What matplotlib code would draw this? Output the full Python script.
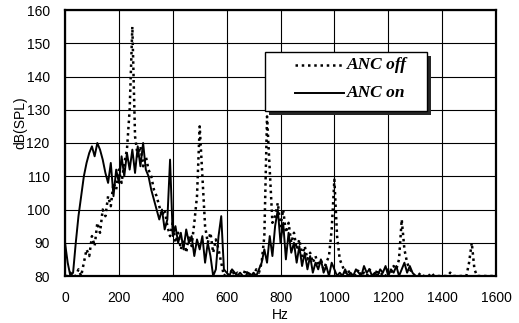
import matplotlib
matplotlib.use("Agg")
import matplotlib.pyplot as plt
from matplotlib.patches import Rectangle
from matplotlib.lines import Line2D
import numpy as np

freq_hz = list(range(0, 1610, 10))

anc_off = [
    80, 80, 81, 80, 80, 82, 80, 84, 88, 86,          # 0-90
    92, 89, 96, 93, 100, 98, 104, 101, 108, 106,     # 100-190
    112, 108, 114, 118, 130, 155, 122, 116, 119, 113,  # 200-290
    116, 112, 110, 106, 104, 101, 98, 100, 95, 92,   # 300-390
    96, 90, 93, 88, 91, 87, 92, 89, 96, 104,         # 400-490
    125, 110, 95, 90, 93, 87, 91, 88, 84, 80,        # 500-590
    81, 80, 82, 80, 81, 80, 80, 82, 80, 81,          # 600-690
    80, 82, 81, 84, 92, 128, 112, 96, 98, 102,       # 700-790
    95, 100, 93, 96, 90, 93, 88, 91, 86, 89,         # 800-890
    85, 87, 84, 86, 83, 85, 82, 84, 86, 94,          # 900-990
    109, 92, 85, 83, 81, 82, 80, 81, 80, 82,         # 1000-1090
    80, 81, 80, 82, 81, 80, 82, 80, 81, 80,          # 1100-1190
    82, 81, 83, 82, 85, 97, 88, 84, 82, 81,          # 1200-1290
    80, 80, 81, 80, 80, 80, 81, 80, 80, 80,          # 1300-1390
    80, 80, 80, 81, 80, 80, 80, 80, 80, 80,          # 1400-1490
    84, 90, 82, 80, 80, 80, 80, 80, 80, 80,          # 1500-1590
    80,                                              # 1600
]

anc_on = [
    90, 84, 80, 81, 90, 98, 104, 110, 114, 117,      # 0-90
    119, 116, 120, 118, 115, 111, 108, 114, 104, 112,  # 100-190
    108, 116, 110, 117, 112, 118, 111, 119, 113, 120,  # 200-290
    112, 110, 106, 103, 100, 97, 100, 94, 97, 115,   # 300-390
    92, 95, 90, 93, 88, 94, 90, 92, 86, 91,          # 400-490
    88, 92, 84, 90, 86, 80, 82, 92, 98, 82,          # 500-590
    81, 80, 82, 81, 80, 81, 80, 80, 81, 80,          # 600-690
    81, 80, 82, 84, 88, 84, 92, 86, 95, 100,         # 700-790
    90, 96, 85, 93, 87, 90, 84, 89, 83, 87,          # 800-890
    82, 86, 81, 84, 82, 85, 81, 83, 80, 84,          # 900-990
    82, 80, 81, 80, 82, 80, 81, 80, 82, 81,          # 1000-1090
    80, 83, 81, 82, 80, 81, 80, 82, 81, 83,          # 1100-1190
    80, 82, 81, 83, 80, 82, 84, 81, 83, 81,          # 1200-1290
    80, 80, 80, 80, 80, 80, 80, 80, 80, 80,          # 1300-1390
    80, 80, 80, 80, 80, 80, 80, 80, 80, 80,          # 1400-1490
    80, 80, 80, 80, 80, 80, 80, 80, 80, 80,          # 1500-1590
    80,                                              # 1600
]

series_labels = ['ANC off', 'ANC on']
x_ticks = [0, 200, 400, 600, 800, 1000, 1200, 1400, 1600]
y_ticks = [80, 90, 100, 110, 120, 130, 140, 150, 160]

plt.rcParams['font.family'] = ['Liberation Sans', 'DejaVu Sans']

fig = plt.figure(figsize=(5.19, 3.23), dpi=100)
ax = fig.add_axes([65/519, 1 - 276/323, 431/519, 266/323])

off_style = dict(color='black', linestyle=(0, (1, 1.5)), linewidth=1.8)
on_style = dict(color='black', linestyle='-', linewidth=1.4)

ax.plot(freq_hz, anc_off, zorder=3, **off_style)
ax.plot(freq_hz, anc_on, zorder=4, **on_style)

ax.set_xlim(0, 1600)
ax.set_ylim(80, 160)
ax.set_xticks(x_ticks)
ax.set_yticks(y_ticks)
ax.tick_params(axis='both', length=0, labelsize=10, pad=11)
ax.grid(True, color='black', linewidth=0.8, zorder=1)
ax.set_axisbelow(True)
for s in ax.spines.values():
    s.set_linewidth(1.6)
    s.set_color('black')

ax.set_xlabel('Hz', fontsize=10)
ax.xaxis.set_label_coords(0.5, -0.122)
ax.set_ylabel('dB(SPL)', fontsize=10)
ax.yaxis.set_label_coords(-0.088, 0.575)

# legend drawn as a boxed key with a dark drop shadow
bx0, bx1 = 0.464, 0.840
by0, by1 = 0.620, 0.842
T = ax.transAxes
sx = 4 / 431
sy = 4 / 266
ax.add_patch(Rectangle((bx0 + sx, by0 - sy), bx1 - bx0, by1 - by0, transform=T,
                       facecolor='0.15', edgecolor='none', zorder=9, clip_on=False))
ax.add_patch(Rectangle((bx0, by0), bx1 - bx0, by1 - by0, transform=T,
                       facecolor='white', edgecolor='black', linewidth=1.0,
                       zorder=10, clip_on=False))
leg_font = dict(family='Liberation Serif', weight='bold', style='italic', size=12.5)
rows_y = [0.793, 0.688]
for lab, st, yy in zip(series_labels, [off_style, on_style], rows_y):
    ax.add_line(Line2D([0.534, 0.648], [yy, yy], transform=T, zorder=11, **st))
    ax.text(0.653, yy, lab, transform=T, ha='left', va='center', zorder=11, **leg_font)

fig.savefig('out.png', dpi=100)
